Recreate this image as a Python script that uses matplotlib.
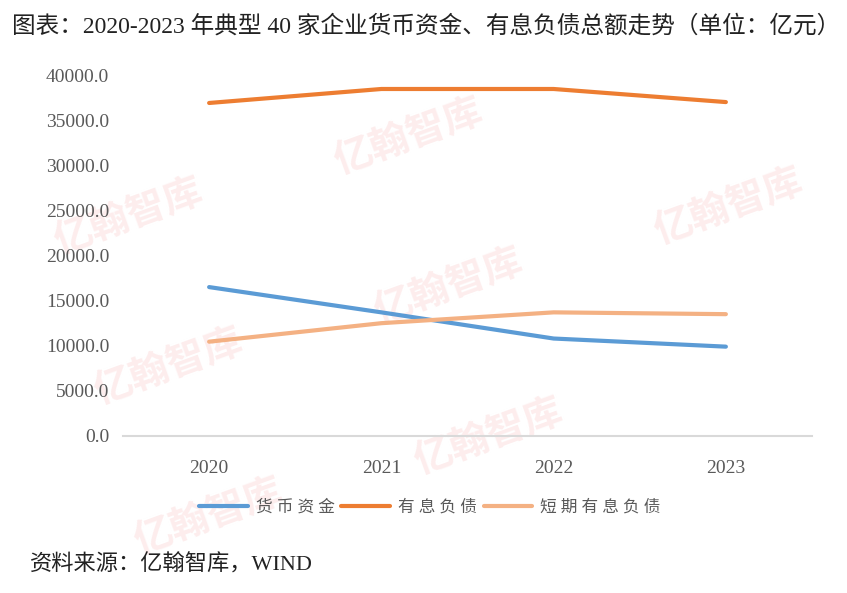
"""2020-2023 典型 40 家企业货币资金、有息负债总额走势 line chart."""
import matplotlib
matplotlib.use("Agg")
import matplotlib.pyplot as plt

SERIF_CJK = ["Liberation Serif", "Noto Sans CJK SC"]
plt.rcParams["font.family"] = SERIF_CJK

years = ["2020", "2021", "2022", "2023"]
cash = [16500, 13700, 10800, 9900]            # 货币资金
debt = [36900, 38450, 38450, 37000]           # 有息负债
short_debt = [10450, 12500, 13700, 13500]     # 短期有息负债
series_names = ["货币资金", "有息负债", "短期有息负债"]
colors = ["#5B9BD5", "#ED7D31", "#F4B183"]
yticks = list(range(0, 40001, 5000))

W, H = 847, 593
fig = plt.figure(figsize=(W / 100, H / 100), dpi=100)
ax = fig.add_axes([123 / W, 1 - 436 / H, (812 - 123) / W, (436 - 75) / H])
ax.set_facecolor("none")

# faint tiled watermark behind the plot (only the tiles that fit the frame)
for i in range(0, 3):
    for j in range(-2, 3):
        x = 128 + 320 * i + 40 * j
        y = 217 + 70 * i + 150 * j
        if not (90 < x < W - 90 and 60 < y < H - 50):
            continue
        fig.text(x / W, 1 - y / H, "亿翰智库", fontsize=28, color="#fdeded",
                 weight="bold", rotation=20, ha="center", va="center",
                 family=["Noto Sans CJK SC"], zorder=-1)

xs = range(len(years))
for vals, name, c in zip([cash, debt, short_debt], series_names, colors):
    ax.plot(xs, vals, color=c, lw=3, solid_capstyle="round",
            label=" ".join(name))

ax.set_xlim(-0.5, 3.5)
ax.set_ylim(0, 40000)
ax.set_xticks(list(xs))
ax.set_xticklabels(years)
ax.set_yticks(yticks)
ax.set_yticklabels([f"{v:.1f}" for v in yticks])
ax.tick_params(length=0, labelsize=14, labelcolor="#595959")
ax.tick_params(axis="x", pad=17)
ax.tick_params(axis="y", pad=10)
for s in ["top", "right", "left"]:
    ax.spines[s].set_visible(False)
ax.spines["bottom"].set_color("#d9d9d9")
ax.spines["bottom"].set_linewidth(1.5)

leg = fig.legend(loc="center", bbox_to_anchor=(430 / W, 1 - 508 / H), ncol=3,
                 frameon=False, fontsize=12, handlelength=2.9,
                 handletextpad=0.5, columnspacing=0.4)
for t in leg.get_texts():
    t.set_color("#595959")

fig.text(12 / W, 1 - 26 / H,
         "图表：2020-2023 年典型 40 家企业货币资金、有息负债总额走势（单位：亿元）",
         fontsize=17, ha="left", va="center", color="#222222")
fig.text(30 / W, 1 - 565 / H, "资料来源：亿翰智库，WIND",
         fontsize=16, ha="left", va="center", color="#222222")

fig.savefig("out.png", dpi=100)
